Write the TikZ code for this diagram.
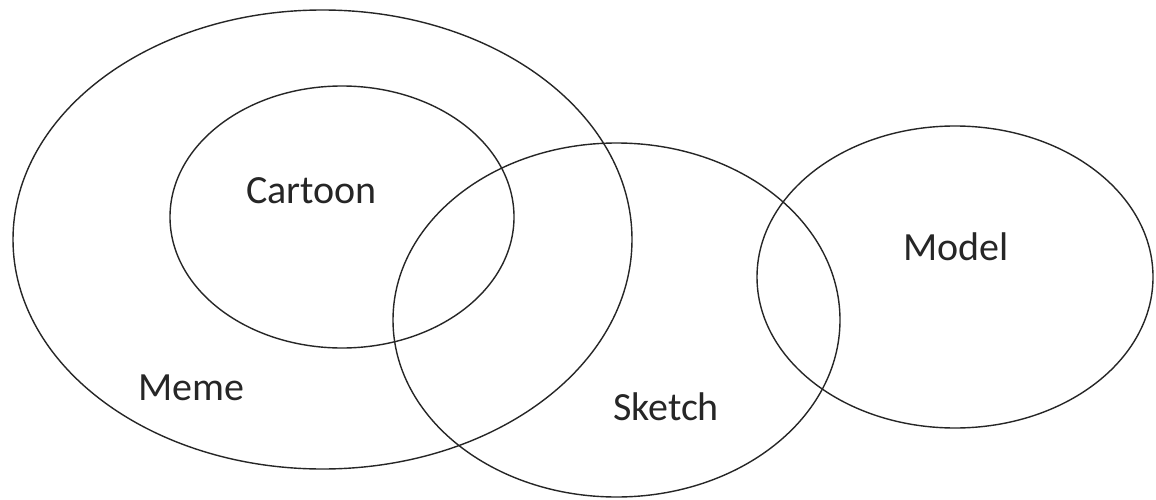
\documentclass[tikz,border=0pt]{standalone}
\usepackage{fontspec}
\setmainfont{Carlito}
\begin{document}
\begin{tikzpicture}[x=1pt,y=-1pt,
  setline/.style={draw=black!85,line width=1.4pt},
  lbl/.style={font=\fontsize{40}{40}\selectfont,text=black!85,anchor=base,inner sep=0pt}]
\useasboundingbox (0,0) rectangle (1156,500);
\fill[white] (0,0) rectangle (1156,500);
\draw[setline] (322.5,239.5) ellipse [x radius=309.5, y radius=229.5];
\draw[setline] (342,217) ellipse [x radius=172, y radius=131];
\draw[setline] (616.5,320) ellipse [x radius=223.5, y radius=177];
\draw[setline] (955,277) ellipse [x radius=198, y radius=151];
\node[lbl] (cartoon) at (311.5,203) {Cartoon};
\node[lbl] (meme) at (191.5,400) {Meme};
\node[lbl] (sketch) at (666,420) {Sketch};
\node[lbl] (model) at (956,260) {Model};
\end{tikzpicture}
\end{document}
